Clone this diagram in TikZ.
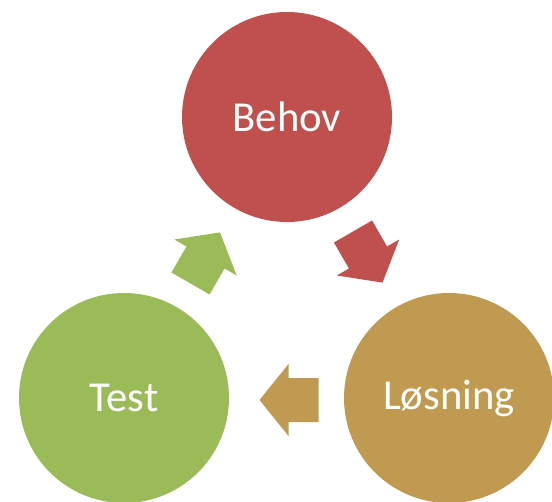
\documentclass[tikz,border=0pt]{standalone}
\usepackage{fontspec}
\setmainfont{Carlito}
\usepackage{tikz}
\usetikzlibrary{calc,positioning}
\definecolor{behovred}{HTML}{C0504D}
\definecolor{testgreen}{HTML}{9BBB59}
\definecolor{losningtan}{RGB}{191,154,80}
\tikzset{
  cyclenode/.style={circle, minimum size=210*0.75pt, inner sep=0pt, text=white, font=\fontsize{32}{38}\selectfont},
  blockarrow/.pic={\fill (-30,-22) -- (0,-22) -- (0,-36) -- (29,0) -- (0,36) -- (0,22) -- (-30,22) -- cycle;}
}
\begin{document}
\begin{tikzpicture}[x=0.75pt,y=-0.75pt]
\useasboundingbox (0,0) rectangle (552,502);
\node[cyclenode, fill=behovred] (B) at (287,117) {Behov};
\node[cyclenode, fill=losningtan] (L) at (449,398) {Løsning};
\node[cyclenode, fill=testgreen] (T) at (124,398) {Test};
\coordinate (BL) at ($(B)!0.5!(L)$);
\coordinate (LT) at ($(L)!0.5!(T)+(2,2)$);
\coordinate (TB) at ($(T)!0.5!(B)$);
\pic[fill=behovred, rotate=-60] at (BL) {blockarrow};
\pic[fill=losningtan, rotate=180] at (LT) {blockarrow};
\pic[fill=testgreen, rotate=60] at (TB) {blockarrow};
\end{tikzpicture}
\end{document}
